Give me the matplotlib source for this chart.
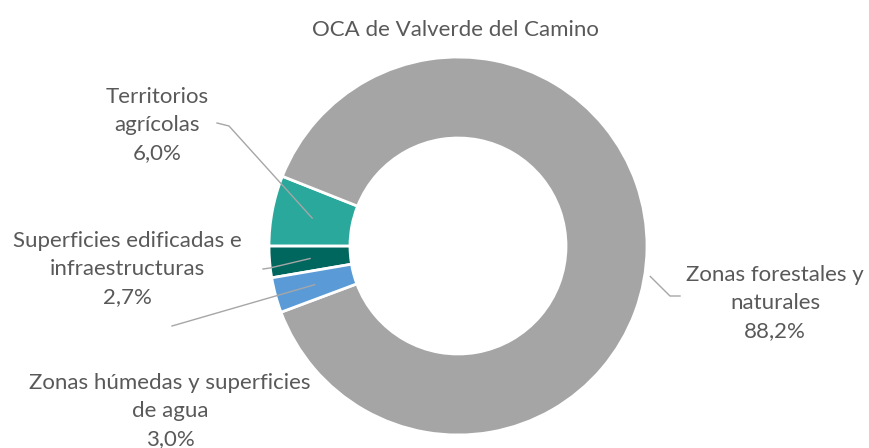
import matplotlib.pyplot as plt
import numpy as np

# datos (orden de la serie en el gráfico original)
categories = ['Superficies edificadas e\ninfraestructuras', 'Territorios\nagrícolas',
              'Zonas forestales y\nnaturales', 'Zonas húmedas y superficies\nde agua']
shares = [2.7, 6.0, 88.2, 3.0]
share_labels = ['2,7%', '6,0%', '88,2%', '3,0%']
colors = ['#00675F', '#2AA89C', '#A5A5A5', '#5A9BD7']

W, H = 870, 448
fig = plt.figure(figsize=(8.7, 4.48), dpi=100)
ax = fig.add_axes([0, 0, 1, 1])

cx, cy, R = 458, H - 246, 189
ring = 81
wedges, _ = ax.pie(shares, colors=colors, startangle=189.7, counterclock=False,
                   center=(cx, cy), radius=R, frame=True,
                   wedgeprops=dict(width=ring, edgecolor='white', linewidth=2))
ax.set_xlim(0, W)
ax.set_ylim(0, H)
ax.set_aspect('equal')
ax.axis('off')

txt_color = '#595959'
line_color = '#A6A6A6'
font = ['Lato', 'DejaVu Sans']

# posiciones de las etiquetas (px, y desde arriba) y puntos de la línea guía
label_pos = [(127, 269), (157, 125), (775, 303), (170, 411)]
leader_start = [[(263, 269), (270, 268)], [(217, 123), (229, 126)],
                [(680, 296), (670, 296)], [(172, 326)]]

for i, w in enumerate(wedges):
    x, y = label_pos[i]
    ax.text(x, H - y, categories[i] + '\n' + share_labels[i], ha='center', va='center',
            fontsize=16, color=txt_color, family=font, linespacing=1.5)
    mid = np.deg2rad((w.theta1 + w.theta2) / 2)
    if i == 2:
        mid = np.deg2rad(-9)
        r = R * 1.03
    else:
        r = R - ring / 2
    pts = [(px, H - py) for px, py in leader_start[i]]
    pts.append((cx + r * np.cos(mid), cy + r * np.sin(mid)))
    xs, ys = zip(*pts)
    ax.plot(xs, ys, color=line_color, lw=1)

ax.text(455, H - 30, 'OCA de Valverde del Camino', ha='center', va='center',
        fontsize=16, color=txt_color, family=font)

fig.savefig('out.png', dpi=100)
